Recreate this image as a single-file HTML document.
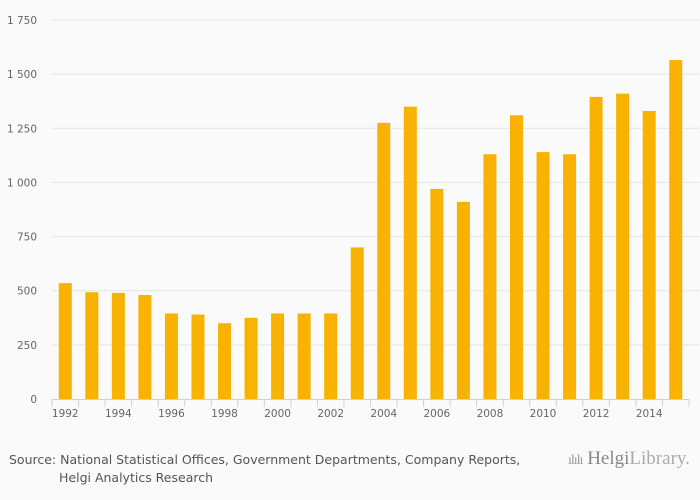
<!DOCTYPE html>
<html><head><meta charset="utf-8"><style>
body{margin:0;background:#fafafa;font-family:"DejaVu Sans",sans-serif;}
#wrap{position:relative;width:700px;height:500px;background:#fafafa;}
.src{position:absolute;left:9px;top:451px;font-size:12.5px;color:#555;line-height:18px;}
</style></head><body>
<div id="wrap">
<svg id="chart" width="700" height="430"></svg>
<div class="src">Source: National Statistical Offices, Government Departments, Company Reports,<br><span style="padding-left:50px">Helgi Analytics Research</span></div>
<div style="position:absolute;left:568px;top:448px;font-family:'Liberation Serif',serif;font-size:19px;color:#999;">
<span style="font-size:14px;letter-spacing:-1px">ılılı</span> <b style="font-weight:normal;color:#888">Helgi</b><span style="color:#aaa">Library.</span></div>
</div>
<script>
const categories=[1992,1993,1994,1995,1996,1997,1998,1999,2000,2001,2002,2003,2004,2005,2006,2007,2008,2009,2010,2011,2012,2013,2014,2015];
const values=[535,493,490,480,395,390,350,375,395,395,395,700,1275,1350,970,910,1130,1310,1140,1130,1395,1410,1330,1565];
const yTicks=[0,250,500,750,1000,1250,1500,1750];
const yTickLabels=["0","250","500","750","1 000","1 250","1 500","1 750"];
const svg=document.getElementById('chart');
const NS='http://www.w3.org/2000/svg';
const x0=52,x1=689,yBase=399,yTop=20,yMax=1750;
const step=(x1-x0)/categories.length;
const y=v=>yBase-(v/yMax)*(yBase-yTop);
const xc=i=>x0+step*(i+0.5);
function mk(t,a){const e=document.createElementNS(NS,t);for(const k in a)e.setAttribute(k,a[k]);svg.appendChild(e);return e;}
yTicks.forEach((t,i)=>{
 if(t>0){const g=mk('line',{x1:x0,x2:x1+10,y1:y(t),y2:y(t),stroke:'#e6e6e6','stroke-width':1});
 
 }
 const l=mk('text',{x:37,y:y(t)+4,'text-anchor':'end','font-size':10.5,fill:'#666'});
 l.textContent=yTickLabels[i];
 
 
});
categories.forEach((c,i)=>{
 const b=mk('rect',{x:xc(i)-6.5,y:y(values[i]),width:13,height:yBase-y(values[i]),fill:'#f9b200'});
 
 
});
const ax=mk('line',{x1:x0,x2:x1,y1:yBase+0.5,y2:yBase+0.5,stroke:'#c5d3e6','stroke-width':1});


for(let i=0;i<=categories.length;i++){
 const tk=mk('line',{x1:x0+step*i,x2:x0+step*i,y1:yBase,y2:yBase+8,stroke:'#c5d3e6','stroke-width':1});
 
 
}
categories.forEach((c,i)=>{
 if(i%2) return;
 const l=mk('text',{x:xc(i),y:yBase+18,'text-anchor':'middle','font-size':10.5,fill:'#666'});
 l.textContent=c;
 
 
});
</script>
</body></html>
